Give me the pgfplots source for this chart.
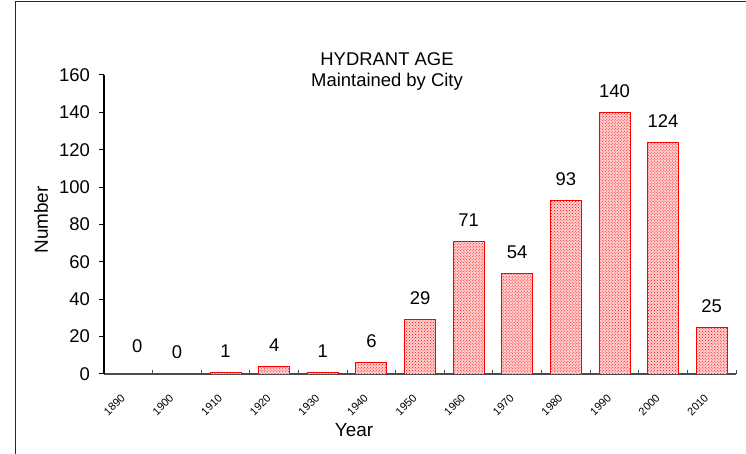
\documentclass[border=0pt]{standalone}
\usepackage{pgfplots}
\pgfplotsset{compat=1.18}
\usepackage{fontspec}
\setmainfont{Liberation Sans}
\usetikzlibrary{patterns}
\begin{document}
\begin{tikzpicture}[x=1bp,y=1bp]
\useasboundingbox (0,0) rectangle (746,454);
\draw[line width=1.3bp, black!85] (15.5,0) -- (15.5,452.5) -- (746,452.5);
\begin{axis}[
  at={(104bp,80bp)}, anchor=south west,
  scale only axis, width=632bp, height=299bp,
  xmin=-0.5, xmax=12.5, ymin=0, ymax=160,
  axis x line*=bottom, axis y line*=left,
  axis line style={-},
  x axis line style={black!70, line width=1.3bp},
  y axis line style={black, line width=1.3bp},
  ytick={0,20,...,160},
  xtick={0,...,12},
  xticklabels={1890,1900,1910,1920,1930,1940,1950,1960,1970,1980,1990,2000,2010},
  minor xtick={0.5,1.5,...,12.5},
  tick align=outside,
  major tick length=5.5bp, minor tick length=3.5bp,
  every major x tick/.append style={draw=none},
  every minor x tick/.append style={yshift=3.5bp, black!70, line width=1bp},
  every major y tick/.append style={black, line width=1bp},
  /pgf/number format/assume math mode=true,
  yticklabel style={font=\fontsize{18.5}{18.5}\selectfont, anchor=east, inner sep=0pt, xshift=-8.5bp},
  xticklabel style={font=\fontsize{11}{11}\selectfont, rotate=45, anchor=north east, inner sep=0pt, xshift=-15.3bp, yshift=-3.9bp},
  every node near coord/.append style={font=\fontsize{18.5}{18.5}\selectfont, anchor=base, inner sep=0pt, text=black},
]
\addplot[ybar, bar width=31bp, bar shift=0pt, draw=red, line width=0.8bp,
  fill=red!18, postaction={pattern=crosshatch dots, pattern color=red},
  nodes near coords, every node near coord/.append style={yshift=15bp}]
  coordinates {(2,1) (3,4) (4,1) (5,6) (6,29) (7,71) (8,54) (9,93) (10,140) (11,124) (12,25)};
\addplot[ybar, bar width=31bp, bar shift=0pt, draw=none, fill=none,
  nodes near coords, every node near coord/.append style={yshift=15.7bp}]
  coordinates {(1,0)};
\addplot[ybar, bar width=31bp, bar shift=0pt, draw=none, fill=none,
  nodes near coords, every node near coord/.append style={yshift=21.7bp, xshift=9bp}]
  coordinates {(0,0)};
\end{axis}
\node[anchor=base, font=\fontsize{18.5}{18.5}\selectfont] at (387,388) {HYDRANT AGE};
\node[anchor=base, font=\fontsize{18.5}{18.5}\selectfont] at (387,367.3) {Maintained by City};
\node[rotate=90, font=\fontsize{19}{19}\selectfont] at (41,234) {Number};
\node[anchor=base, font=\fontsize{19}{19}\selectfont] at (354,17.3) {Year};
\end{tikzpicture}
\end{document}
